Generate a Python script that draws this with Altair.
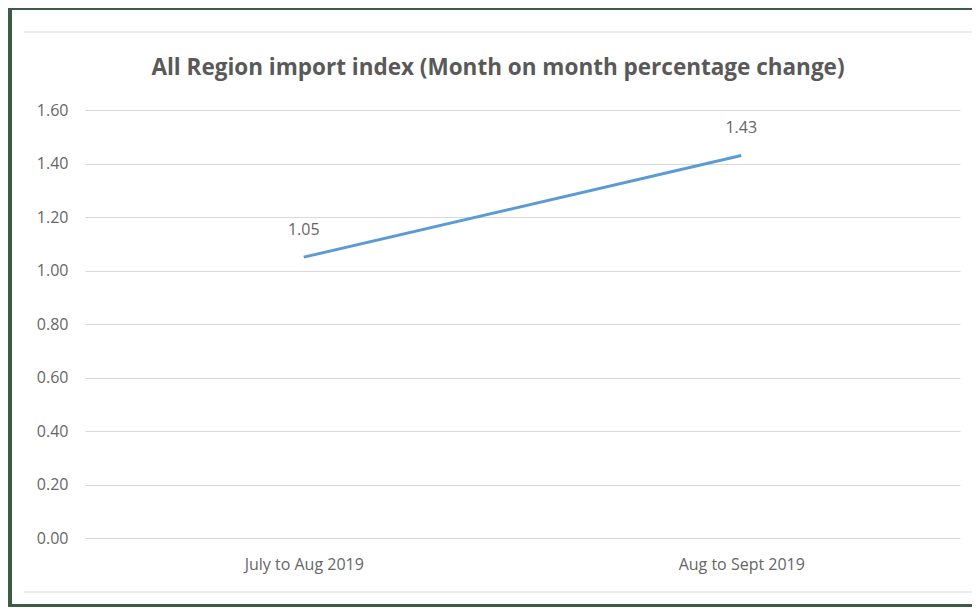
import altair as alt
import pandas as pd

periods = ["July to Aug 2019", "Aug to Sept 2019"]
values = [1.05, 1.43]
y_ticks = [0.0, 0.2, 0.4, 0.6, 0.8, 1.0, 1.2, 1.4, 1.6]
title_text = "All Region import index (Month on month  percentage change)"

df = pd.DataFrame({"period": periods, "value": values})

FONT = "Open Sans"
GREY = "#595959"
LGREY = "#666666"
GRID = "#d9d9d9"
GREEN = "#3d5c45"

x_enc = alt.X("period:N", sort=periods,
              scale=alt.Scale(type="point", padding=0.5),
              axis=alt.Axis(title=None, labelFontSize=16, labelColor=LGREY, labelFont=FONT,
                            ticks=False, domain=False, grid=False, labelPadding=18,
                            labelAngle=0))
y_enc = alt.Y("value:Q",
              scale=alt.Scale(domain=[0, 1.6], nice=False, zero=True),
              axis=alt.Axis(title=None, values=y_ticks, format=".2f", labelFontSize=16,
                            labelColor=LGREY, labelFont=FONT, ticks=False, domain=False,
                            grid=True, gridColor=GRID, gridWidth=1, labelPadding=17))

base = alt.Chart(df)

line = base.mark_line(color="#5b9bd5", strokeWidth=3).encode(x=x_enc, y=y_enc)
labels = base.mark_text(dy=-27, fontSize=16, color=LGREY, font=FONT).encode(
    x=alt.X("period:N", sort=periods), y="value:Q", text=alt.Text("value:Q", format=".2f"))

deco = alt.Chart(alt.Data(values=[{"t": title_text}]))
frame = deco.mark_rect(fillOpacity=0, stroke=GREEN, strokeWidth=8).encode(
    x=alt.value(-77), x2=alt.value(1000), y=alt.value(-104), y2=alt.value(498))
top_rule = deco.mark_rule(color=GRID, strokeWidth=1).encode(
    x=alt.value(-61), x2=alt.value(900), y=alt.value(-78))
bottom_rule = deco.mark_rule(color=GRID, strokeWidth=1).encode(
    x=alt.value(-61), x2=alt.value(900), y=alt.value(482))
title = deco.mark_text(fontSize=22.5, font=FONT, fontWeight="bold", color=GREY,
                       align="center", baseline="middle").encode(
    x=alt.value(413), y=alt.value(-42), text="t:N")

chart = alt.layer(top_rule, bottom_rule, line, labels, title, frame).properties(
    width=875, height=428,
    background="white",
    padding={"left": 77, "top": 102, "right": 12, "bottom": 69},
    autosize=alt.AutoSizeParams(type="none"),
).configure_view(stroke=None)

chart.save("out.html", embed_options={"renderer": "svg", "actions": False})
